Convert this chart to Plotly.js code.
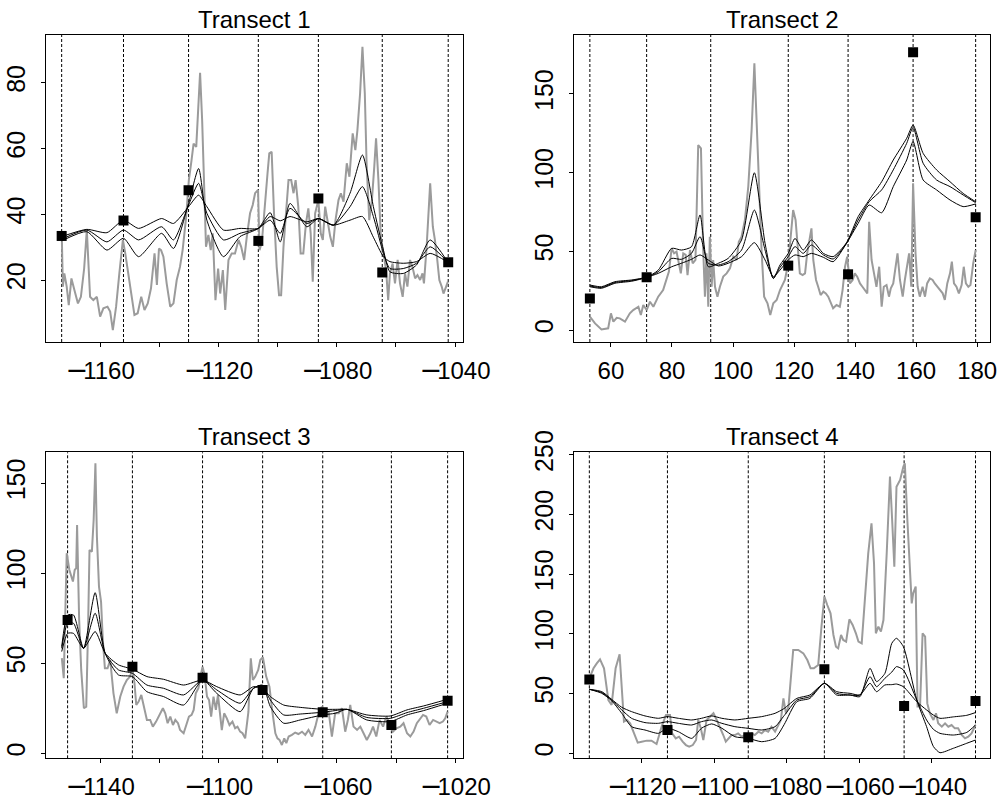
<!DOCTYPE html>
<html>
<head>
<meta charset="utf-8">
<script src="https://cdn.plot.ly/plotly-3.0.1.min.js"></script>
<style>
  html, body { margin: 0; padding: 0; background: #ffffff; }
  #chart { width: 1003px; height: 806px; }
</style>
</head>
<body>
<div id="chart"></div>
<script>
// ---------------- Panel titles ----------------
const panelTitles = ["Transect 1", "Transect 2", "Transect 3", "Transect 4"];

// ---------------- Transect 1 ----------------
const t1GreyX = [-1172.95,-1172.6,-1172.1,-1171.3,-1170.6,-1169.7,-1168.7,-1167.5,-1166.5,-1165.4,-1164.5,-1163.4,-1162.3,-1161.1,-1160.0,-1158.9,-1157.5,-1156.6,-1155.7,-1154.6,-1153.5,-1152.3,-1151.5,-1150.6,-1149.5,-1148.4,-1147.3,-1146.1,-1145.0,-1143.9,-1142.8,-1141.6,-1140.8,-1140.1,-1139.4,-1138.6,-1137.5,-1136.3,-1135.2,-1134.1,-1133.0,-1132.1,-1130.9,-1130.0,-1129.1,-1128.4,-1127.5,-1127.0,-1126.2,-1125.5,-1124.8,-1124.2,-1123.4,-1122.6,-1121.9,-1121.0,-1120.1,-1119.4,-1118.5,-1117.7,-1116.6,-1115.5,-1114.4,-1113.2,-1112.3,-1111.3,-1110.4,-1109.3,-1108.4,-1107.6,-1106.6,-1106.1,-1105.3,-1104.2,-1103.4,-1102.8,-1102.0,-1101.2,-1100.3,-1099.5,-1098.8,-1098.0,-1097.1,-1096.3,-1095.4,-1094.6,-1093.9,-1093.0,-1092.2,-1091.3,-1090.4,-1089.6,-1088.8,-1088.1,-1087.3,-1086.2,-1085.4,-1084.7,-1083.9,-1083.2,-1082.2,-1081.3,-1080.4,-1079.4,-1078.6,-1077.7,-1076.6,-1075.7,-1074.6,-1073.7,-1073.0,-1072.1,-1071.3,-1070.5,-1069.9,-1069.0,-1068.1,-1067.3,-1066.7,-1065.9,-1065.1,-1064.2,-1063.3,-1062.6,-1062.0,-1061.1,-1060.3,-1059.4,-1058.6,-1057.7,-1056.9,-1056.1,-1055.2,-1054.4,-1053.5,-1052.7,-1051.8,-1051.0,-1050.5,-1049.6,-1048.4,-1047.5,-1046.8,-1046.0,-1045.3,-1044.5,-1043.9,-1043.0,-1042.4];
const t1GreyY = [33.2,18.0,22.0,18.0,12.4,20.5,17.0,12.9,14.9,23.5,35.2,14.9,13.9,14.9,8.9,11.4,11.9,10.4,4.8,11.9,22.0,32.2,28.1,23.0,15.9,9.4,9.9,14.9,10.9,12.9,17.5,28.1,18.5,29.6,29.1,27.1,19.0,11.9,12.9,20.0,24.0,29.1,39.3,50.4,56.4,61.5,60.5,69.6,83.0,68.6,46.4,30.1,33.7,29.1,34.2,13.9,23.5,15.9,23.0,10.9,26.1,28.1,28.1,32.2,30.1,26.1,33.2,40.3,42.8,46.4,47.4,29.1,31.6,42.3,52.4,58.5,59.0,40.3,24.0,15.4,15.4,30.1,42.3,50.4,50.4,46.4,50.4,42.3,28.1,28.1,37.2,41.8,34.2,19.5,40.3,44.3,34.2,32.2,42.3,38.2,33.2,30.1,38.2,44.3,46.4,43.8,55.5,51.4,64.6,59.5,65.6,76.7,90.9,76.7,55.5,38.2,44.3,54.5,63.1,50.4,33.2,28.1,23.0,13.9,22.0,25.0,19.0,26.1,19.0,14.9,22.0,18.0,26.1,24.0,20.5,21.5,20.0,22.0,19.0,30.1,49.4,36.2,32.2,26.1,20.0,18.0,15.9,18.0,19.5];
const t1SmoothX = [-1173.0,-1164.5,-1157.7,-1152.1,-1147.0,-1139.2,-1135.2,-1130.1,-1126.7,-1123.9,-1118.3,-1112.7,-1106.5,-1102.5,-1099.1,-1095.8,-1090.1,-1086.2,-1081.1,-1075.5,-1071.3,-1067.6,-1064.2,-1062.0,-1057.5,-1053.0,-1048.4,-1042.4];
const t1SmoothA = [33.2,35.4,34.4,38.2,35.7,38.7,37.2,42.3,45.8,42.3,35.2,35.7,35.7,39.3,38.0,39.3,37.7,38.7,36.7,38.2,39.3,33.0,27.1,25.6,25.1,25.6,28.1,25.4];
const t1SmoothB = [32.4,35.2,31.6,35.2,32.2,36.2,32.2,42.8,49.4,40.3,32.2,34.2,35.7,38.2,34.2,41.8,37.2,38.7,36.7,42.3,48.4,39.3,28.1,23.5,23.5,25.1,30.1,25.4];
const t1SmoothC = [31.9,34.7,29.1,32.7,27.1,34.2,29.6,43.3,53.9,38.2,27.1,33.2,35.7,40.5,31.6,43.3,36.2,38.7,36.7,46.4,58.0,42.3,29.1,22.5,22.0,24.6,32.2,25.4];
const t1SiteX = [-1173.0,-1152.1,-1130.1,-1106.5,-1086.2,-1064.6,-1042.3];
const t1SiteY = [33.4,38.1,47.3,31.9,44.8,22.3,25.4];
const t1XTicks = [-1160,-1140,-1120,-1100,-1080,-1060,-1040];
const t1XTickText = ["-1160","","-1120","","-1080","","-1040"];
const t1YTicks = [20,40,60,80];

// ---------------- Transect 2 ----------------
const t2GreyX = [53.1,54.8,56.9,59.1,60.0,60.8,61.9,62.9,64.6,66.2,67.3,69.0,69.8,70.6,71.7,72.8,73.9,75.5,77.1,78.2,79.0,79.9,80.7,81.5,82.3,82.9,83.7,84.5,85.1,85.9,86.8,87.7,88.6,89.5,90.2,90.8,91.3,91.9,92.4,93.0,93.5,94.1,94.9,95.7,96.8,97.9,99.0,100.1,101.2,101.9,102.8,103.9,105.0,106.1,107.0,107.7,108.5,109.4,110.2,111.3,112.2,113.2,114.3,115.4,117.0,118.1,118.9,119.7,120.5,121.4,121.9,122.8,123.6,124.3,125.0,125.7,126.3,127.2,127.9,128.7,129.6,130.4,131.2,132.0,132.8,133.9,135.0,135.9,136.7,137.4,138.3,139.2,139.9,140.7,141.6,142.4,143.2,144.0,144.6,145.4,146.2,147.0,147.9,148.7,149.4,150.3,151.1,151.7,152.5,153.3,153.9,154.7,155.6,156.3,157.1,157.7,158.4,159.0,159.8,160.5,161.2,162.1,162.9,163.6,164.5,165.4,166.1,167.0,167.8,168.7,169.4,170.2,171.1,171.7,172.4,173.2,174.0,174.9,175.6,176.3,177.1,177.8,178.7,179.5];
const t2GreyY = [8.5,4.2,0.4,1.1,10.6,5.3,7.8,7.4,5.3,10.6,12.7,14.8,9.5,15.9,12.7,18.0,14.8,21.2,25.4,31.8,37.1,51.9,48.7,49.8,42.4,36.0,48.7,47.7,34.9,50.8,42.4,44.5,117.5,115.4,52.9,21.2,48.7,14.8,59.3,27.5,44.5,27.5,21.2,27.5,33.9,36.0,39.2,46.6,44.5,56.1,59.3,69.9,91.1,127.1,169.4,133.4,84.7,48.7,21.2,17.0,9.5,17.0,19.1,25.4,31.8,42.4,59.3,76.2,69.9,48.7,36.0,34.9,36.0,48.7,57.2,64.6,44.5,31.8,27.5,22.2,24.4,23.3,21.2,17.0,13.8,15.9,14.8,25.4,40.2,46.6,29.6,31.8,36.0,33.9,29.6,27.5,25.4,23.3,68.8,44.5,36.0,27.5,40.2,14.8,27.5,28.6,21.2,26.5,29.6,39.2,48.7,31.8,21.2,31.8,42.4,48.7,27.5,93.2,48.7,27.5,21.2,27.5,21.2,29.6,32.8,31.8,29.6,27.5,25.4,23.3,19.1,29.6,36.0,43.4,29.6,27.5,23.3,28.6,40.2,29.6,27.5,28.6,42.4,50.8];
const t2SmoothX = [53.1,56.9,61.3,66.8,71.7,75.5,79.9,83.1,86.4,89.2,91.9,95.2,98.4,102.8,107.0,110.5,113.2,115.4,118.1,120.3,123.0,125.7,129.6,132.8,137.2,141.0,144.6,148.7,152.5,156.9,159.0,162.3,166.7,171.1,175.4,179.5];
const t2SmoothA = [28.6,27.5,30.7,31.8,33.5,36.0,40.2,42.4,44.9,47.7,44.5,40.7,42.4,46.6,55.5,44.5,33.9,38.1,44.5,47.7,46.6,48.7,46.2,43.4,55.1,67.7,79.4,74.5,91.1,108.0,119.7,95.3,89.0,82.6,78.4,80.1];
const t2SmoothB = [28.0,27.0,30.2,31.4,33.5,37.0,45.5,44.9,48.7,59.3,42.4,41.3,43.4,50.8,76.2,50.8,32.8,39.8,46.6,53.0,48.7,54.0,47.7,45.1,55.1,69.9,81.5,89.0,101.7,118.6,128.8,105.9,95.3,91.1,85.8,80.9];
const t2SmoothC = [27.5,26.5,29.7,31.0,33.5,38.0,51.9,50.8,52.9,73.1,40.2,42.4,45.5,57.2,99.9,55.1,32.8,41.3,48.7,58.2,50.8,57.2,48.7,46.6,55.5,72.0,82.6,94.2,108.0,121.8,130.2,112.2,101.7,94.2,86.8,81.5];
const t2LineX = [53.1,71.7,92.7,118.1,137.7,159.0,179.5];
const t2SiteX = [53.1,71.7,118.1,137.7,159.0,179.5];
const t2SiteY = [20.1,33.5,40.9,35.4,176.4,71.6];
const t2XTicks = [60,80,100,120,140,160,180];
const t2XTickText = ["60","80","100","120","140","160","180"];
const t2YTicks = [0,50,100,150];

// ---------------- Transect 3 ----------------
const t3GreyX = [-1152.95,-1152.3,-1151.3,-1150.4,-1149.2,-1148.6,-1148.1,-1147.8,-1147.1,-1146.4,-1145.5,-1144.7,-1144.1,-1143.6,-1142.8,-1142.2,-1141.6,-1141.1,-1140.4,-1139.7,-1139.1,-1138.4,-1137.5,-1136.6,-1135.5,-1134.4,-1133.2,-1132.1,-1131.0,-1129.9,-1129.1,-1128.4,-1127.8,-1127.0,-1126.1,-1125.3,-1124.2,-1123.1,-1122.2,-1121.1,-1119.7,-1118.8,-1118.0,-1117.2,-1116.3,-1115.4,-1114.6,-1113.7,-1113.0,-1111.8,-1110.9,-1110.0,-1109.1,-1108.4,-1107.7,-1106.8,-1106.0,-1105.4,-1104.7,-1103.9,-1103.2,-1102.5,-1101.7,-1100.9,-1100.2,-1099.7,-1098.9,-1098.1,-1097.2,-1096.3,-1095.3,-1094.4,-1093.6,-1092.7,-1091.9,-1091.0,-1090.4,-1089.9,-1089.1,-1088.4,-1087.6,-1086.6,-1085.9,-1085.0,-1083.9,-1082.8,-1081.9,-1080.8,-1080.1,-1079.4,-1078.6,-1077.8,-1077.1,-1076.3,-1075.2,-1074.1,-1073.0,-1071.8,-1070.7,-1069.6,-1068.4,-1067.3,-1066.2,-1065.1,-1063.9,-1062.8,-1061.7,-1060.6,-1059.4,-1058.3,-1057.2,-1056.3,-1055.5,-1054.4,-1053.2,-1052.1,-1051.0,-1049.9,-1048.7,-1047.8,-1046.7,-1045.6,-1044.4,-1043.3,-1042.2,-1041.1,-1039.9,-1038.6,-1037.5,-1036.3,-1035.2,-1034.1,-1033.0,-1031.8,-1030.9,-1029.8,-1028.7,-1027.5,-1026.4,-1025.3,-1024.2,-1023.4,-1022.6];
const t3GreyY = [52.8,41.7,111.1,101.8,95.4,101.8,102.8,126.8,74.1,46.3,25.0,25.9,68.5,112.9,112.0,129.6,161.1,120.4,92.6,84.2,62.9,47.2,47.2,51.8,33.3,22.2,31.5,37.0,40.7,42.6,47.2,38.9,26.8,28.7,32.4,25.9,18.5,18.5,14.8,17.6,22.2,25.0,22.2,16.7,20.4,15.7,18.5,16.7,12.9,11.1,15.7,20.4,21.3,24.1,33.3,36.1,43.5,48.1,43.5,31.5,29.6,20.4,31.5,24.1,32.4,25.9,12.9,22.2,19.4,15.7,17.6,13.9,14.8,12.0,11.1,8.3,18.5,23.1,52.8,40.7,42.6,46.3,51.8,53.3,42.6,37.0,24.1,11.1,8.3,7.4,4.6,8.3,5.6,9.3,10.2,11.5,10.7,12.0,10.2,13.0,9.3,14.8,22.2,25.9,22.2,23.1,9.3,22.2,22.2,25.0,12.0,18.5,26.8,14.8,13.0,14.8,11.1,7.4,11.1,14.8,9.3,18.5,14.8,20.4,16.7,12.0,13.9,14.8,16.7,11.1,9.3,12.0,16.7,19.4,21.3,20.4,15.7,18.5,17.6,16.7,17.6,19.4,23.1];
const t3SmoothX = [-1153.0,-1151.0,-1149.0,-1145.6,-1141.7,-1138.3,-1133.8,-1129.1,-1124.2,-1118.6,-1111.8,-1105.4,-1100.6,-1092.7,-1088.2,-1085.1,-1082.5,-1078.0,-1072.4,-1064.8,-1060.6,-1056.6,-1049.9,-1042.0,-1036.3,-1030.7,-1022.6];
const t3SmoothA = [56.5,66.6,66.6,58.3,67.6,55.5,49.1,46.7,42.6,41.1,37.9,40.7,37.0,32.4,37.0,36.1,31.5,26.8,25.5,24.4,24.4,24.4,21.3,20.7,24.1,26.3,30.0];
const t3SmoothB = [58.3,72.2,72.2,58.3,77.8,55.5,46.3,44.4,37.9,36.1,32.4,40.7,35.2,27.8,36.1,37.0,29.6,21.3,21.8,22.8,23.7,24.4,19.9,19.4,22.6,25.0,28.7];
const t3SmoothC = [59.3,76.8,76.8,58.3,89.2,55.5,43.5,42.6,34.2,31.5,26.8,40.7,33.3,23.1,36.1,37.9,25.9,16.7,18.5,21.3,22.2,24.4,18.5,17.6,21.3,23.7,27.8];
const t3SiteX = [-1151.0,-1129.1,-1105.4,-1085.1,-1064.8,-1041.6,-1022.6];
const t3SiteY = [74.1,48.1,42.0,35.2,22.8,15.7,29.2];
const t3XTicks = [-1140,-1120,-1100,-1080,-1060,-1040,-1020];
const t3XTickText = ["-1140","","-1100","","-1060","","-1020"];
const t3YTicks = [0,50,100,150];

// ---------------- Transect 4 ----------------
const t4GreyX = [-1134.45,-1133.3,-1132.4,-1131.5,-1130.4,-1129.2,-1128.3,-1127.2,-1126.1,-1125.5,-1124.9,-1124.1,-1123.2,-1122.3,-1121.1,-1120.0,-1118.6,-1117.3,-1115.9,-1114.5,-1113.3,-1112.2,-1111.6,-1110.6,-1109.7,-1108.7,-1107.8,-1106.9,-1105.9,-1105.0,-1104.4,-1103.7,-1103.0,-1102.1,-1101.2,-1100.2,-1099.3,-1098.4,-1097.5,-1096.8,-1096.1,-1095.2,-1094.3,-1093.4,-1092.4,-1091.5,-1090.6,-1089.7,-1088.8,-1087.8,-1086.9,-1086.0,-1085.1,-1084.2,-1083.2,-1082.5,-1081.6,-1080.9,-1080.2,-1079.5,-1078.9,-1078.2,-1076.8,-1075.4,-1074.3,-1073.4,-1072.5,-1071.3,-1070.4,-1069.6,-1068.8,-1067.9,-1067.1,-1066.4,-1065.8,-1065.0,-1064.4,-1063.6,-1062.7,-1061.8,-1060.9,-1060.2,-1059.3,-1058.4,-1057.5,-1056.6,-1055.9,-1055.4,-1054.7,-1054.0,-1053.3,-1052.4,-1051.5,-1050.9,-1050.3,-1049.7,-1048.7,-1047.8,-1047.4,-1046.7,-1046.0,-1045.5,-1045.1,-1044.4,-1043.9,-1043.2,-1042.5,-1041.8,-1041.2,-1040.5,-1039.5,-1038.8,-1038.2,-1037.2,-1036.3,-1035.4,-1034.5,-1033.6,-1032.7,-1031.7,-1030.8,-1029.9,-1029.0,-1027.9];
const t4GreyY = [62.8,71.2,75.3,78.7,71.2,44.6,40.5,71.2,82.9,50.2,26.5,27.9,25.1,18.1,8.9,9.7,10.6,10.6,7.8,22.3,32.1,32.1,16.7,12.5,13.9,9.7,6.9,5.6,6.9,11.1,27.9,20.9,11.1,27.9,30.7,33.5,27.9,22.3,15.3,9.7,12.5,15.3,15.3,16.7,13.9,15.3,14.5,16.7,15.3,18.1,16.7,19.5,18.1,22.3,18.1,22.3,27.9,46.0,33.5,39.1,64.2,86.5,86.5,83.7,78.1,71.2,71.2,73.9,106.1,131.2,124.2,117.2,99.1,89.3,87.9,99.1,94.9,93.5,112.2,107.5,100.5,93.5,92.1,134.0,167.5,192.6,159.1,100.5,106.1,101.9,111.6,167.5,231.7,195.4,156.3,223.3,228.9,240.1,242.9,195.4,153.5,125.6,134.0,139.6,39.1,39.1,100.5,97.7,41.8,33.5,27.9,33.5,25.1,22.3,25.1,22.3,23.7,20.9,20.9,15.3,12.5,13.9,16.7,23.7];
const t4SmoothX = [-1134.45,-1131.0,-1128.3,-1125.5,-1122.8,-1119.1,-1115.4,-1112.9,-1109.9,-1106.2,-1103.5,-1100.7,-1097.9,-1094.3,-1090.6,-1086.9,-1083.2,-1080.7,-1077.2,-1073.6,-1069.6,-1066.2,-1062.5,-1059.8,-1057.0,-1055.2,-1052.9,-1051.0,-1049.7,-1047.8,-1044.1,-1041.4,-1039.5,-1037.7,-1034.0,-1030.3,-1027.9];
const t4SmoothA = [53.6,51.6,45.2,38.5,34.9,31.3,29.3,30.7,29.3,27.9,29.3,31.3,29.3,27.9,29.3,30.7,33.5,37.5,46.0,48.8,58.6,51.6,50.2,48.8,58.6,51.6,57.2,57.5,58.0,55.8,43.2,36.3,32.0,29.3,30.5,31.8,34.1];
const t4SmoothB = [53.6,50.8,44.6,36.3,29.3,25.7,25.1,26.5,25.1,23.7,26.5,27.9,25.1,22.3,20.9,19.5,22.3,31.5,44.6,47.4,58.6,50.2,48.8,48.8,64.2,55.8,62.8,68.0,72.6,69.8,44.6,27.9,20.0,16.7,15.3,17.5,23.7];
const t4SmoothC = [53.6,50.2,44.0,33.5,22.3,19.5,16.7,21.0,18.1,12.5,21.0,24.6,21.0,13.9,12.5,9.7,12.5,24.0,43.2,46.0,58.6,48.8,48.8,47.4,71.2,60.0,66.9,92.1,96.3,89.3,44.6,22.3,5.6,0.5,4.2,8.4,11.1];
const t4SiteX = [-1134.45,-1112.9,-1090.6,-1069.6,-1047.6,-1027.9];
const t4SiteY = [61.9,19.5,13.4,70.3,39.6,43.8];
const t4XTicks = [-1120,-1100,-1080,-1060,-1040];
const t4XTickText = ["-1120","-1100","-1080","-1060","-1040"];
const t4YTicks = [0,50,100,150,200,250];

// ---------------- Styling / layout ----------------
const FONT = "Liberation Sans, Arial, Helvetica, sans-serif";
const GREY = "#9b9b9b";
// the reference draws a long minus sign: use a wide minus glyph with its side bearing trimmed
const MINUS = '<span style="font-family:DejaVu Sans;font-size:27px;letter-spacing:-5px">\u2212</span>';
const fmtTick = s => s.charAt(0) === "-" ? MINUS + s.slice(1) : s;

const panels = [
  {gx:t1GreyX, gy:t1GreyY, sx:t1SmoothX, s:[t1SmoothA,t1SmoothB,t1SmoothC], lx:t1SiteX, px:t1SiteX, py:t1SiteY,
   xt:t1XTicks, xtt:t1XTickText, yt:t1YTicks, xr:[-1178.3,-1037.3], yr:[1.16,94.5],
   xd:[46/1003, 463/1003], yd:[1-342/806, 1-35/806]},
  {gx:t2GreyX, gy:t2GreyY, sx:t2SmoothX, s:[t2SmoothA,t2SmoothB,t2SmoothC], lx:t2LineX, px:t2SiteX, py:t2SiteY,
   xt:t2XTicks, xtt:t2XTickText, yt:t2YTicks, xr:[48.0,184.2], yr:[-7.6,187.4],
   xd:[574.3/1003, 990/1003], yd:[1-342/806, 1-35/806]},
  {gx:t3GreyX, gy:t3GreyY, sx:t3SmoothX, s:[t3SmoothA,t3SmoothB,t3SmoothC], lx:t3SiteX, px:t3SiteX, py:t3SiteY,
   xt:t3XTicks, xtt:t3XTickText, yt:t3YTicks, xr:[-1158.3,-1017.4], yr:[-2.8,167.2],
   xd:[46/1003, 463/1003], yd:[1-758.3/806, 1-452.3/806]},
  {gx:t4GreyX, gy:t4GreyY, sx:t4SmoothX, s:[t4SmoothA,t4SmoothB,t4SmoothC], lx:t4SiteX, px:t4SiteX, py:t4SiteY,
   xt:t4XTicks, xtt:t4XTickText, yt:t4YTicks, xr:[-1138.6,-1023.9], yr:[-4.2,252.1],
   xd:[574.3/1003, 990/1003], yd:[1-758.3/806, 1-452.3/806]}
];

const traces = [];
const shapes = [];
const annotations = [];
const layout = {
  width: 1003, height: 806,
  margin: {l:0, r:0, t:0, b:0, pad:0},
  paper_bgcolor: "#ffffff", plot_bgcolor: "#ffffff",
  showlegend: false,
  font: {family: FONT, color: "#000000", size: 24}
};

panels.forEach((p, i) => {
  const n = i + 1;
  const xa = n === 1 ? "x" : "x" + n;
  const ya = n === 1 ? "y" : "y" + n;
  traces.push({type:"scatter", mode:"lines", x:p.gx, y:p.gy, xaxis:xa, yaxis:ya,
    line:{color:GREY, width:2}, hoverinfo:"skip"});
  p.s.forEach(sy => {
    traces.push({type:"scatter", mode:"lines", x:p.sx, y:sy, xaxis:xa, yaxis:ya,
      line:{color:"#000000", width:1, shape:"spline", smoothing:0.6}, hoverinfo:"skip"});
  });
  traces.push({type:"scatter", mode:"markers", x:p.px, y:p.py, xaxis:xa, yaxis:ya,
    marker:{symbol:"square", size:10, color:"#000000", line:{width:0}}, hoverinfo:"skip"});
  p.lx.forEach(v => {
    shapes.push({type:"line", xref:xa, yref:ya + " domain", x0:v, x1:v, y0:0, y1:1,
      line:{color:"#000000", width:1, dash:"3px,2px"}, layer:"below"});
  });
  const axBase = {showgrid:false, zeroline:false, showline:true, linecolor:"#000000", linewidth:1,
    mirror:true, ticks:"outside", ticklen:4, tickwidth:1, tickcolor:"#000000",
    tickfont:{family:FONT, size:24, color:"#000000"}, fixedrange:true};
  layout["xaxis" + (n === 1 ? "" : n)] = Object.assign({}, axBase, {
    domain:p.xd, anchor:ya, range:p.xr, tickmode:"array", tickvals:p.xt, ticktext:p.xtt.map(fmtTick),
    tickangle:0, ticklabelstandoff:3});
  layout["yaxis" + (n === 1 ? "" : n)] = Object.assign({}, axBase, {
    domain:p.yd, anchor:xa, range:p.yr, tickmode:"array", tickvals:p.yt,
    ticktext:p.yt.map(String), tickangle:-90, ticklabelstandoff:6,
    tickfont:{family:FONT, size:25, color:"#000000"}});
  annotations.push({text:panelTitles[i], xref:"paper", yref:"paper",
    x:(p.xd[0]+p.xd[1])/2, y:p.yd[1], xanchor:"center", yanchor:"bottom", yshift:0,
    showarrow:false, font:{family:FONT, size:24, color:"#000000"}});
});

layout.shapes = shapes;
layout.annotations = annotations;

Plotly.newPlot("chart", traces, layout, {staticPlot:true, displayModeBar:false});
</script>
</body>
</html>
